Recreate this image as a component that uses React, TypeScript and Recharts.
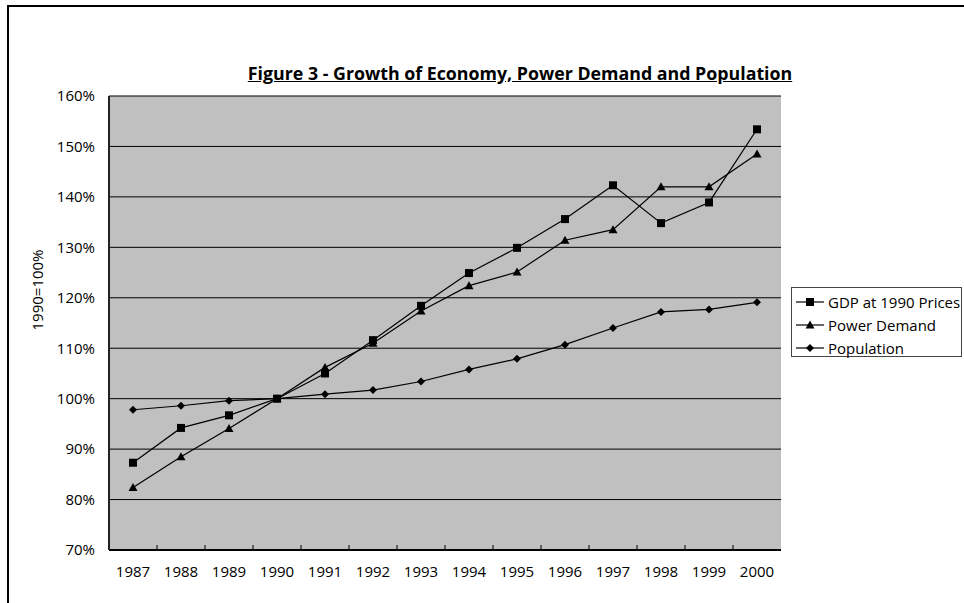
import { LineChart, Line, XAxis, YAxis, CartesianGrid, Legend } from 'recharts';

// Index values, 1990 = 100%
const years = ['1987', '1988', '1989', '1990', '1991', '1992', '1993', '1994', '1995', '1996', '1997', '1998', '1999', '2000'];
const gdp = [87.3, 94.2, 96.7, 100, 105.0, 111.6, 118.4, 124.9, 129.9, 135.6, 142.3, 134.8, 138.9, 153.4];
const powerDemand = [82.4, 88.5, 94.1, 100, 106.2, 111.0, 117.4, 122.4, 125.1, 131.4, 133.5, 142.0, 142.0, 148.5];
const population = [97.8, 98.6, 99.6, 100, 100.9, 101.7, 103.4, 105.8, 107.9, 110.7, 114.0, 117.2, 117.7, 119.1];
const yTicks = [70, 80, 90, 100, 110, 120, 130, 140, 150, 160];

const data = years.map((year, i) => ({
    year,
    gdp: gdp[i],
    power: powerDemand[i],
    population: population[i],
}));

const FONT = '"Open Sans", "DejaVu Sans", sans-serif';
const WIDTH = 964;
const HEIGHT = 603;
const PLOT = { left: 109, top: 96, right: 781, bottom: 550 };
const BAND = (PLOT.right - PLOT.left) / years.length;

type MarkerKind = 'square' | 'triangle' | 'diamond';

const SERIES: { key: string; name: string; marker: MarkerKind }[] = [
    { key: 'gdp', name: 'GDP at 1990 Prices', marker: 'square' },
    { key: 'power', name: 'Power Demand', marker: 'triangle' },
    { key: 'population', name: 'Population', marker: 'diamond' },
];

function Marker({ kind, cx, cy }: { kind: MarkerKind; cx: number; cy: number }) {
    if (kind === 'square') {
        return <rect x={cx - 4} y={cy - 4} width={8} height={8} fill="#000" />;
    }
    if (kind === 'triangle') {
        return <polygon points={`${cx},${cy - 4.5} ${cx + 4.5},${cy + 3.5} ${cx - 4.5},${cy + 3.5}`} fill="#000" />;
    }
    return <polygon points={`${cx},${cy - 4} ${cx + 4},${cy} ${cx},${cy + 4} ${cx - 4},${cy}`} fill="#000" />;
}

const makeDot = (kind: MarkerKind) => (props: any) => {
    const { cx, cy, index } = props;
    if (cx == null || cy == null) return <g key={`d-${index}`} />;
    return <Marker key={`d-${kind}-${index}`} kind={kind} cx={cx} cy={cy} />;
};

// Year labels sit in the middle of each band; tick marks point inward at band edges
function YearTick(props: any) {
    const { x, y, payload, index } = props;
    const axisY = y - 16;
    const last = index === years.length - 1;
    return (
        <g>
            {!last && (
                <line x1={x + BAND / 2} x2={x + BAND / 2} y1={axisY} y2={axisY - 5} stroke="#000" strokeWidth={1} />
            )}
            <text x={x} y={y} dy="0.71em" textAnchor="middle" fill="#000" fontSize={15} fontFamily={FONT}>
                {payload.value}
            </text>
        </g>
    );
}

function LegendBox() {
    return (
        <div
            style={{
                width: 171,
                height: 70,
                border: '1px solid #444',
                background: '#fff',
                boxSizing: 'border-box',
                paddingTop: 2,
            }}
        >
            {SERIES.map((s) => (
                <div key={s.key} style={{ display: 'flex', alignItems: 'center', height: 23, fontFamily: FONT, fontSize: 15, color: '#000' }}>
                    <svg width={36} height={16} style={{ flex: 'none' }}>
                        <line x1={4} x2={32} y1={8} y2={8} stroke="#000" strokeWidth={1.2} />
                        <Marker kind={s.marker} cx={18} cy={8} />
                    </svg>
                    <span style={{ whiteSpace: 'nowrap' }}>{s.name}</span>
                </div>
            ))}
        </div>
    );
}

export default function App() {
    return (
        <div style={{ position: 'fixed', left: 0, top: 0, width: WIDTH, height: HEIGHT, background: '#fff', overflow: 'hidden' }}>
            {/* outer chart frame, running past the right and bottom edges */}
            <div
                style={{
                    position: 'absolute',
                    left: 7,
                    top: 5,
                    width: WIDTH + 20,
                    height: HEIGHT + 20,
                    borderTop: '2px solid #000',
                    borderLeft: '2px solid #000',
                }}
            />
            <div
                style={{
                    position: 'absolute',
                    left: 0,
                    width: 1040,
                    top: 61,
                    textAlign: 'center',
                    fontFamily: FONT,
                    fontWeight: 700,
                    fontSize: 17.8,
                    textDecoration: 'underline',
                    color: '#000',
                }}
            >
                Figure 3 - Growth of Economy, Power Demand and Population
            </div>
            <div
                style={{
                    position: 'absolute',
                    left: 37,
                    top: 290,
                    transform: 'translate(-50%, -50%) rotate(-90deg)',
                    fontFamily: FONT,
                    fontSize: 15,
                    whiteSpace: 'nowrap',
                    color: '#000',
                }}
            >
                1990=100%
            </div>
            <div style={{ position: 'absolute', left: 0, top: 0 }}>
                <LineChart
                    width={WIDTH}
                    height={HEIGHT}
                    data={data}
                    margin={{ top: PLOT.top, right: WIDTH - PLOT.right, bottom: HEIGHT - PLOT.bottom - 30, left: PLOT.left - 60 }}
                >
                    <CartesianGrid vertical={false} fill="#c0c0c0" stroke="#000" strokeWidth={1} />
                    <XAxis
                        dataKey="year"
                        height={30}
                        padding={{ left: BAND / 2, right: BAND / 2 }}
                        tickSize={0}
                        tickMargin={16}
                        tick={<YearTick />}
                        axisLine={{ stroke: '#000', strokeWidth: 2 }}
                        tickLine={false}
                        interval={0}
                    />
                    <YAxis
                        width={60}
                        domain={[70, 160]}
                        ticks={yTicks}
                        tickFormatter={(v: number) => `${v}%`}
                        tickLine={false}
                        tickSize={6}
                        tickMargin={8}
                        axisLine={{ stroke: '#222', strokeWidth: 2 }}
                        tick={{ fill: '#000', fontSize: 15, fontFamily: FONT }}
                        allowDataOverflow
                    />
                    <YAxis
                        yAxisId="frame"
                        orientation="right"
                        width={0}
                        domain={[70, 160]}
                        tick={false}
                        tickLine={false}
                        axisLine={{ stroke: '#444', strokeWidth: 1.5 }}
                    />
                    <Legend
                        layout="vertical"
                        align="center"
                        verticalAlign="middle"
                        wrapperStyle={{ left: 791, top: 287, width: 171 }}
                        content={() => <LegendBox />}
                    />
                    {SERIES.map((s) => (
                        <Line
                            key={s.key}
                            type="linear"
                            dataKey={s.key}
                            name={s.name}
                            stroke="#000"
                            strokeWidth={1.2}
                            dot={makeDot(s.marker)}
                            activeDot={false}
                            isAnimationActive={false}
                        />
                    ))}
                </LineChart>
            </div>
        </div>
    );
}
